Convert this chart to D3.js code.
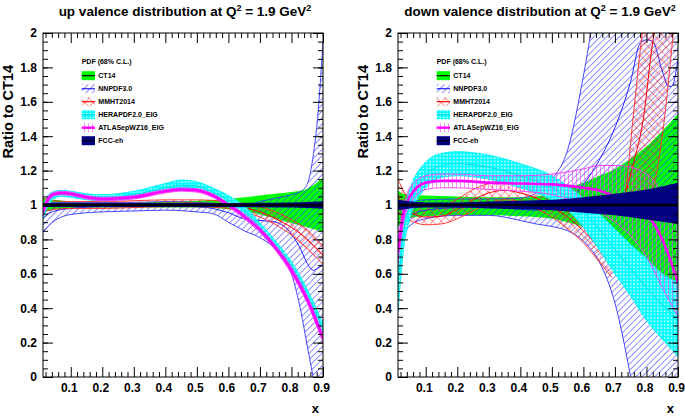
<!DOCTYPE html>
<html>
<head>
<meta charset="utf-8">
<script src="https://cdn.jsdelivr.net/npm/d3@7"></script>
<style>
  body { margin: 0; background: #fff; }
  text { font-family: "Liberation Sans", Arial, sans-serif; font-weight: bold; }
</style>
</head>
<body>
<svg id="chart" width="685" height="419"></svg>
<script>
// rows are [x, lower, central, upper]  (ratio to CT14)
const upCT14 = [[0.012,0.955,1,1.045],[0.03,0.965,1,1.035],[0.05,0.975,1,1.03],[0.1,0.98,1,1.02],[0.2,0.985,1,1.015],[0.3,0.985,1,1.015],[0.4,0.985,1,1.02],[0.5,0.985,1,1.025],[0.6,0.975,1,1.035],[0.65,0.965,1,1.045],[0.7,0.945,1,1.055],[0.75,0.92,1,1.065],[0.8,0.895,1,1.075],[0.85,0.87,1,1.095],[0.9,0.845,1,1.16]];
const upNNPDF = [[0.012,0.84,0.92,1.0],[0.03,0.88,0.95,1.01],[0.05,0.91,0.965,1.015],[0.1,0.945,0.98,1.015],[0.2,0.96,0.99,1.015],[0.3,0.965,0.99,1.015],[0.4,0.97,0.995,1.02],[0.5,0.96,0.99,1.015],[0.55,0.95,0.98,1.01],[0.6,0.9,0.955,1.0],[0.65,0.85,0.92,0.995],[0.7,0.81,0.91,1.02],[0.75,0.74,0.9,1.04],[0.8,0.6,0.83,1.06],[0.83,0.38,0.74,1.08],[0.85,0.18,0.66,1.12],[0.87,-0.02,0.62,1.3],[0.88,-0.15,0.63,1.45],[0.9,-0.4,0.65,1.95]];
const upMMHT = [[0.012,0.96,1.0,1.04],[0.05,0.975,1.0,1.025],[0.1,0.98,1.0,1.02],[0.2,0.98,1.0,1.02],[0.3,0.985,1.005,1.025],[0.4,0.99,1.01,1.03],[0.5,0.99,1.01,1.03],[0.6,0.98,1.0,1.02],[0.65,0.96,0.985,1.01],[0.7,0.93,0.96,0.99],[0.75,0.885,0.92,0.96],[0.8,0.825,0.87,0.915],[0.85,0.745,0.8,0.855],[0.9,0.655,0.71,0.76]];
const upHERA = [[0.012,0.92,0.96,0.99],[0.03,1.0,1.03,1.06],[0.05,1.04,1.06,1.08],[0.07,1.05,1.07,1.085],[0.1,1.045,1.065,1.08],[0.15,1.03,1.05,1.065],[0.2,1.025,1.045,1.06],[0.3,1.04,1.06,1.08],[0.4,1.08,1.1,1.125],[0.45,1.085,1.115,1.145],[0.5,1.085,1.11,1.135],[0.55,1.05,1.075,1.1],[0.6,1.005,1.03,1.055],[0.65,0.945,0.97,0.995],[0.7,0.845,0.87,0.895],[0.75,0.74,0.765,0.79],[0.8,0.62,0.645,0.67],[0.85,0.45,0.48,0.51],[0.9,0.25,0.28,0.31]];
const upATLAS = [[0.012,0.94,0.96,0.98],[0.03,1.02,1.04,1.055],[0.05,1.055,1.065,1.075],[0.07,1.06,1.07,1.08],[0.1,1.055,1.065,1.075],[0.15,1.035,1.045,1.055],[0.2,1.025,1.035,1.045],[0.3,1.035,1.045,1.055],[0.4,1.07,1.08,1.09],[0.45,1.08,1.09,1.1],[0.5,1.075,1.085,1.095],[0.55,1.045,1.055,1.065],[0.6,0.99,1.0,1.01],[0.65,0.92,0.935,0.95],[0.7,0.84,0.855,0.87],[0.75,0.735,0.75,0.765],[0.8,0.6,0.62,0.64],[0.85,0.43,0.45,0.47],[0.9,0.2,0.225,0.25]];
const upFCC = [[0.012,0.988,1,1.012],[0.5,0.988,1,1.012],[0.8,0.985,1,1.015],[0.9,0.978,1,1.022]];

const downCT14 = [[0.012,0.87,1,1.085],[0.03,0.91,1,1.065],[0.05,0.925,1,1.06],[0.1,0.935,1,1.055],[0.2,0.94,1,1.05],[0.3,0.94,1,1.045],[0.4,0.935,1,1.045],[0.45,0.93,1,1.05],[0.5,0.92,1,1.07],[0.55,0.9,1,1.1],[0.6,0.87,1,1.13],[0.65,0.83,1,1.17],[0.7,0.79,1,1.21],[0.75,0.73,1,1.27],[0.8,0.66,1,1.34],[0.85,0.58,1,1.43],[0.9,0.49,1,1.53]];
const downNNPDF = [[0.012,0.45,0.72,1.0],[0.03,0.8,0.9,1.01],[0.05,0.88,0.94,1.02],[0.1,0.92,0.97,1.03],[0.2,0.94,0.985,1.035],[0.3,0.94,0.99,1.035],[0.4,0.91,0.975,1.04],[0.45,0.89,0.97,1.07],[0.5,0.875,0.985,1.15],[0.55,0.85,1.03,1.32],[0.6,0.79,1.12,1.75],[0.65,0.67,1.26,2.3],[0.7,0.43,1.45,2.8],[0.75,0.0,1.72,3.5],[0.78,-0.3,1.94,4],[0.8,-0.5,1.96,4],[0.82,-0.7,1.95,4],[0.85,-1,1.78,4],[0.87,-1,1.69,4],[0.88,-1,1.69,4],[0.9,-1,1.85,4]];
const downMMHT = [[0.012,0.95,1.05,1.15],[0.03,0.93,1.0,1.08],[0.05,0.91,0.96,1.03],[0.1,0.885,0.93,0.99],[0.15,0.89,0.935,0.995],[0.2,0.92,0.975,1.035],[0.25,0.965,1.03,1.09],[0.3,1.01,1.07,1.125],[0.35,1.03,1.085,1.14],[0.4,1.02,1.07,1.125],[0.45,0.98,1.04,1.09],[0.5,0.93,0.99,1.05],[0.55,0.86,0.93,0.995],[0.6,0.78,0.85,0.92],[0.65,0.67,0.75,0.83],[0.69,0.58,0.66,0.74]];
const downMMHTHigh = [[0.735,1.08,1.08,1.08],[0.76,1.05,1.25,1.55],[0.79,1.05,1.5,2.05],[0.82,1.1,1.95,2.4],[0.85,1.4,2.2,2.6],[0.885,2.0,2.4,2.8]];
const downHERA = [[0.012,0.38,0.53,0.68],[0.03,0.75,0.85,0.95],[0.05,0.92,1.0,1.09],[0.1,1.1,1.17,1.25],[0.15,1.16,1.23,1.3],[0.2,1.17,1.24,1.31],[0.3,1.15,1.22,1.29],[0.4,1.1,1.17,1.24],[0.5,1.03,1.1,1.17],[0.55,0.97,1.04,1.11],[0.6,0.87,0.96,1.04],[0.65,0.74,0.86,0.95],[0.7,0.6,0.74,0.86],[0.75,0.47,0.63,0.77],[0.8,0.33,0.52,0.69],[0.85,0.22,0.42,0.6],[0.9,0.12,0.33,0.55]];
const downATLAS = [[0.012,0.66,0.73,0.8],[0.03,0.9,0.95,1.0],[0.05,1.0,1.05,1.1],[0.1,1.09,1.13,1.17],[0.15,1.1,1.14,1.18],[0.2,1.1,1.14,1.18],[0.3,1.09,1.13,1.17],[0.4,1.08,1.125,1.17],[0.5,1.06,1.12,1.18],[0.6,1.0,1.1,1.21],[0.65,0.96,1.085,1.23],[0.7,0.9,1.05,1.23],[0.75,0.82,1.01,1.22],[0.8,0.7,0.95,1.18],[0.85,0.52,0.8,1.08],[0.9,0.35,0.55,0.95]];
const downFCC = [[0.012,0.97,1,1.03],[0.1,0.985,1,1.015],[0.2,0.985,1,1.015],[0.3,0.98,1,1.02],[0.4,0.975,1,1.025],[0.5,0.97,1,1.03],[0.6,0.955,1,1.045],[0.7,0.94,1,1.065],[0.8,0.915,1,1.09],[0.9,0.89,1,1.13]];

const legendNames = ["CT14", "NNPDF3.0", "MMHT2014", "HERAPDF2.0_EIG", "ATLASepWZ16_EIG", "FCC-eh"];
const xTicks = [0.1, 0.2, 0.3, 0.4, 0.5, 0.6, 0.7, 0.8, 0.9];
const yTicks = [0, 0.2, 0.4, 0.6, 0.8, 1, 1.2, 1.4, 1.6, 1.8, 2];

const svg = d3.select("#chart");
const defs = svg.append("defs");

// fill styles
function hatch(id, color, size, angle, cross, width) {
  const p = defs.append("pattern").attr("id", id)
    .attr("patternUnits", "userSpaceOnUse")
    .attr("width", size).attr("height", size)
    .attr("patternTransform", "rotate(" + angle + ")");
  p.append("line").attr("x1", 0).attr("y1", 0).attr("x2", 0).attr("y2", size)
    .attr("stroke", color).attr("stroke-width", width);
  if (cross) {
    p.append("line").attr("x1", 0).attr("y1", 0).attr("x2", size).attr("y2", 0)
      .attr("stroke", color).attr("stroke-width", width);
  }
}
hatch("pNN", "#3333ff", 4.5, 45, false, 1.1);
hatch("pMM", "#ff2a2a", 6, 45, true, 0.9);
hatch("pAT", "#ff33ff", 4, 0, false, 1.1);
const dots = defs.append("pattern").attr("id", "pHE")
  .attr("patternUnits", "userSpaceOnUse").attr("width", 3.4).attr("height", 3.4);
dots.append("rect").attr("width", 3.4).attr("height", 3.4).attr("fill", "#00ffff");
dots.append("rect").attr("x", 1).attr("y", 1).attr("width", 1.4).attr("height", 1.4).attr("fill", "#ffffff");

const styles = [
  { fill: "#00ff00", edge: "#00ff00", mid: "#000000", midW: 1 },
  { fill: "url(#pNN)", edge: "#3333ff", mid: "#2222ff", midW: 1 },
  { fill: "url(#pMM)", edge: "#ff2a2a", mid: "#ff0000", midW: 1 },
  { fill: "url(#pHE)", edge: "#00f0f0", mid: "#00dddd", midW: 1 },
  { fill: "url(#pAT)", edge: "#ff33ff", mid: "#ff00ff", midW: 2.6 },
  { fill: "#000080", edge: "#000080", mid: "#000000", midW: 2.4 }
];

const y = d3.scaleLinear().domain([0, 2]).range([377, 33]);

function drawPanel(idx, left, right, sets, flavour) {
  const x = d3.scaleLinear().domain([0.012, 0.9]).range([left, right]);
  const g = svg.append("g");
  const clipId = "clip" + idx;
  defs.append("clipPath").attr("id", clipId).append("rect")
    .attr("x", left).attr("y", y(2)).attr("width", right - left).attr("height", y(0) - y(2));

  const plot = g.append("g").attr("clip-path", "url(#" + clipId + ")");
  const area = d3.area().curve(d3.curveMonotoneX)
    .x(d => x(d[0])).y0(d => y(d[1])).y1(d => y(d[3]));
  const line = k => d3.line().curve(d3.curveMonotoneX).x(d => x(d[0])).y(d => y(d[k]));

  sets.forEach(s => {
    const st = styles[s.style];
    plot.append("path").attr("d", area(s.data)).attr("fill", st.fill).attr("stroke", "none");
    if (s.style !== 5 && s.style !== 0) {
      [1, 3].forEach(k => plot.append("path").attr("d", line(k)(s.data))
        .attr("fill", "none").attr("stroke", st.edge).attr("stroke-width", 0.9));
    }
    if (s.style !== 0) {
      plot.append("path").attr("d", line(2)(s.data))
        .attr("fill", "none").attr("stroke", st.mid).attr("stroke-width", st.midW);
    }
  });

  // frame + ticks
  const minor = d3.range(1, 46).map(i => i * 0.02).filter(v => v > 0.012 && Math.abs(v * 10 - Math.round(v * 10)) > 1e-6);
  const yMinor = d3.range(0, 41).map(i => i * 0.05);
  const axes = [
    [d3.axisBottom(x).tickValues(xTicks).tickSize(-10).tickPadding(6).tickFormat(d3.format(".1f")), "translate(0," + y(0) + ")"],
    [d3.axisBottom(x).tickValues(minor).tickSize(-5).tickFormat(""), "translate(0," + y(0) + ")"],
    [d3.axisTop(x).tickValues(xTicks).tickSize(-10).tickFormat(""), "translate(0," + y(2) + ")"],
    [d3.axisTop(x).tickValues(minor).tickSize(-5).tickFormat(""), "translate(0," + y(2) + ")"],
    [d3.axisLeft(y).tickValues(yTicks).tickSize(-10).tickPadding(6).tickFormat(d3.format("~g")), "translate(" + left + ",0)"],
    [d3.axisLeft(y).tickValues(yMinor).tickSize(-5).tickFormat(""), "translate(" + left + ",0)"],
    [d3.axisRight(y).tickValues(yTicks).tickSize(-10).tickFormat(""), "translate(" + right + ",0)"],
    [d3.axisRight(y).tickValues(yMinor).tickSize(-5).tickFormat(""), "translate(" + right + ",0)"]
  ];
  axes.forEach(([ax, tr], i) => {
    const a = g.append("g").attr("transform", tr).call(ax);
    a.select(".domain").remove();
    a.selectAll("line").attr("stroke", "#000").attr("stroke-width", 1);
    a.selectAll("text").attr("font-size", 12).attr("fill", "#000")
      .style("font-family", "'Liberation Sans', Arial, sans-serif").style("font-weight", "bold");
    if (i === 0) a.selectAll("text").attr("dx", -2);
  });
  g.append("rect").attr("x", left).attr("y", y(2)).attr("width", right - left).attr("height", y(0) - y(2))
    .attr("fill", "none").attr("stroke", "#000").attr("stroke-width", 1);

  // titles
  const t = g.append("text").attr("x", (left + right) / 2 + 2).attr("y", 16)
    .attr("text-anchor", "middle").attr("font-size", 13.5);
  t.append("tspan").text(flavour + " valence distribution at Q");
  t.append("tspan").attr("dy", -5).attr("font-size", 9).text("2");
  t.append("tspan").attr("dy", 5).text(" = 1.9 GeV");
  t.append("tspan").attr("dy", -5).attr("font-size", 9).text("2");

  g.append("text").attr("transform", "translate(" + (left - 30) + ",65) rotate(-90)")
    .attr("text-anchor", "end").attr("font-size", 14.5).text("Ratio to CT14");
  g.append("text").attr("x", right - 4).attr("y", 413).attr("text-anchor", "end")
    .attr("font-size", 13).text("x");

  // legend
  const lx = left + 38.7;
  g.append("text").attr("x", lx).attr("y", 64).attr("font-size", 7).text("PDF (68% C.L.)");
  legendNames.forEach((name, i) => {
    const st = styles[i];
    const cy = 75.7 + i * 13;
    g.append("rect").attr("x", lx).attr("y", cy - 4.5).attr("width", 13.3).attr("height", 9)
      .attr("fill", st.fill);
    g.append("line").attr("x1", lx).attr("x2", lx + 13.3).attr("y1", cy).attr("y2", cy)
      .attr("stroke", i === 0 || i === 5 ? "#000" : st.mid).attr("stroke-width", i === 4 ? 2.4 : 1.2);
    g.append("text").attr("x", lx + 16.6).attr("y", cy + 2.6).attr("font-size", 7).text(name);
  });
}

drawPanel(0, 43, 323, [
  { data: upCT14, style: 0 }, { data: upNNPDF, style: 1 }, { data: upMMHT, style: 2 },
  { data: upHERA, style: 3 }, { data: upATLAS, style: 4 }, { data: upFCC, style: 5 }
], "up");

drawPanel(1, 398, 678, [
  { data: downCT14, style: 0 }, { data: downNNPDF, style: 1 }, { data: downMMHT, style: 2 },
  { data: downMMHTHigh, style: 2 }, { data: downHERA, style: 3 }, { data: downATLAS, style: 4 },
  { data: downFCC, style: 5 }
], "down");
</script>
</body>
</html>
